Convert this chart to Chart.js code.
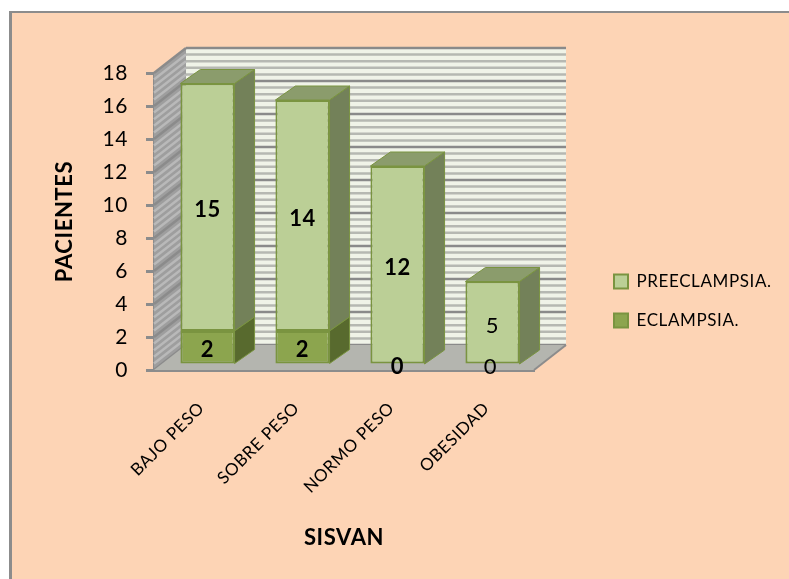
<!DOCTYPE html>
<html><head><meta charset="utf-8">
<style>
html,body{margin:0;padding:0;background:#fff;width:789px;height:579px;overflow:hidden}
#bg{position:absolute;left:9px;top:11px;width:777px;height:566px;background:#FDD4B5;border-left:3px solid #8c8c8c;border-top:2px solid #8c8c8c}
#c{position:absolute;left:0;top:0}
</style>
<script src="https://cdn.jsdelivr.net/npm/chart.js@4"></script>
</head><body>
<div id="bg"></div>
<canvas id="c" width="789" height="579"></canvas>
<script>
const categories = ['BAJO PESO','SOBRE PESO','NORMO PESO','OBESIDAD'];
const eclampsia = [2,2,0,0];
const preeclampsia = [15,14,12,5];
const yTicksMax = 18;
const yStep = 2;
const stripeStep = 0.4;

const FONT = 'Lato, sans-serif';
const wallDX = 32, wallDY = -25;      // depth of the chart box
const barShift = 6;                   // bars sit inside the depth
const barDX = 20, barDY = -14;        // depth of a bar
const C = {axis:'#8c8c8c',wall:'#F0F3E8',minor:'#B6B8B2',major:'#8A8A8A',floor:'#B4B5AF',
  sideWall:'#9E9E9E',sideMinor:'#B9B9B9',sideMajor:'#8B8B8B',
  preFill:'#BBCF96',preTop:'#8B9C6C',preSide:'#738159',
  ecFill:'#8CA54E',ecSide:'#586A2E',edge:'#7A9440'};

function poly(ctx,pts,fill,stroke,lw){
  ctx.beginPath();pts.forEach((p,i)=>i?ctx.lineTo(p[0],p[1]):ctx.moveTo(p[0],p[1]));ctx.closePath();
  if(fill){ctx.fillStyle=fill;ctx.fill();}
  if(stroke){ctx.strokeStyle=stroke;ctx.lineWidth=lw||1;ctx.stroke();}
}
const box3d = {
  id:'box3d',
  beforeLayout(chart){
    const lg = chart.legend;
    if(lg && !lg._wrapped){
      const fit = lg.fit;
      lg.fit = function(){fit.call(this); this.width = 255;};
      lg._wrapped = true;
    }
  },
  afterLayout(chart){
    const lg = chart.legend;
    const p = lg.options.labels.padding;
    lg.left = 614 - p; lg.right = 789;
    lg.top = 273 - p; lg.bottom = lg.top + 80 + p;
  },
  beforeDraw(chart){ chart.ctx.letterSpacing='0.6px'; },
  beforeDatasetsDraw(chart){
    const ctx = chart.ctx, y = chart.scales.y, x = chart.scales.x;
    const L = x.left, R = x.right, Y0 = y.getPixelForValue(0), Yt = y.getPixelForValue(yTicksMax);
    ctx.save();
    // back wall
    poly(ctx,[[L+wallDX,Yt+wallDY],[R+wallDX,Yt+wallDY],[R+wallDX,Y0+wallDY],[L+wallDX,Y0+wallDY]],C.wall);
    // side wall
    poly(ctx,[[L,Y0],[L+wallDX,Y0+wallDY],[L+wallDX,Yt+wallDY],[L,Yt]],C.sideWall);
    // stripes and gridlines, both walls
    const n = Math.round(yTicksMax/stripeStep);
    for(let i=0;i<=n;i++){
      const v = i*stripeStep, py = y.getPixelForValue(v);
      const major = i%5===0;
      ctx.lineWidth = 2.5;
      ctx.strokeStyle = major?C.major:C.minor;
      ctx.beginPath();ctx.moveTo(L+wallDX,py+wallDY);ctx.lineTo(R+wallDX,py+wallDY);ctx.stroke();
      ctx.strokeStyle = major?C.sideMajor:C.sideMinor;
      ctx.beginPath();ctx.moveTo(L,py);ctx.lineTo(L+wallDX,py+wallDY);ctx.stroke();
    }
    // floor
    poly(ctx,[[L,Y0],[R,Y0],[R+wallDX,Y0+wallDY],[L+wallDX,Y0+wallDY]],C.floor);
    ctx.strokeStyle=C.axis;ctx.lineWidth=2;
    ctx.beginPath();ctx.moveTo(R,Y0);ctx.lineTo(R+wallDX,Y0+wallDY);ctx.stroke();
    ctx.restore();
    // bar sides and tops, in the shifted bar plane
    ctx.save();
    ctx.translate(barShift,-barShift);
    const dsE = chart.getDatasetMeta(0).data, dsP = chart.getDatasetMeta(1).data;
    categories.forEach((_,i)=>{
      const e = dsE[i], p = dsP[i];
      const hw = p.width/2, xr = p.x+hw, xl = p.x-hw;
      const yb = e.base, ym = e.y, yt = p.y;
      // upper side
      poly(ctx,[[xr,ym],[xr+barDX,ym+barDY],[xr+barDX,yt+barDY],[xr,yt]],C.preSide,C.edge,1);
      // lower side
      if(ym!==yb) poly(ctx,[[xr,yb],[xr+barDX,yb+barDY],[xr+barDX,ym+barDY],[xr,ym]],C.ecSide,C.edge,1);
      // top
      poly(ctx,[[xl,yt],[xl+barDX,yt+barDY],[xr+barDX,yt+barDY],[xr,yt]],C.preTop,C.edge,1);
    });
    // the bars themselves are drawn by the library in this same shifted plane
  },
  afterDatasetsDraw(chart){
    const ctx = chart.ctx;
    ctx.restore();
    ctx.save();
    ctx.fillStyle='#000';ctx.textAlign='center';ctx.textBaseline='middle';
    chart.data.datasets.forEach((ds,di)=>{
      chart.getDatasetMeta(di).data.forEach((el,i)=>{
        const v = ds.data[i];
        const cx = el.x + barShift;
        const cy = v===0 ? el.base - barShift + 3 : (el.y+el.base)/2 - barShift + 3;
        ctx.font = (i===3?'400 ':'700 ')+'22px '+FONT;
        ctx.fillText(String(v), v===0&&i===3?cx-2:cx, cy);
      });
    });
    ctx.restore();
  }
};

new Chart(document.getElementById('c'),{
  type:'bar',
  data:{labels:categories,datasets:[
    {label:'ECLAMPSIA.',data:eclampsia,backgroundColor:C.ecFill,borderColor:C.edge,borderWidth:2,borderSkipped:false},
    {label:'PREECLAMPSIA.',data:preeclampsia,backgroundColor:C.preFill,borderColor:C.edge,borderWidth:2,borderSkipped:false}
  ]},
  options:{
    responsive:false,animation:false,devicePixelRatio:1,
    layout:{padding:{top:73,left:0,right:0,bottom:0}},
    datasets:{bar:{categoryPercentage:1,barPercentage:0.57}},
    plugins:{
      tooltip:{enabled:false},
      legend:{display:true,position:'right',reverse:true,align:'start',
        labels:{boxWidth:14,boxHeight:14,padding:22,color:'#000',font:{family:FONT,size:17}}}
    },
    scales:{
      x:{stacked:true,offset:true,
        afterFit(s){s.height=209;},
        grid:{display:false,drawTicks:false},
        border:{color:C.axis,width:3},
        ticks:{color:'#000',font:{family:FONT,size:17},minRotation:45,maxRotation:45,padding:28,autoSkip:false},
        title:{display:true,text:'SISVAN',color:'#000',font:{family:FONT,size:22,weight:'bold'},padding:{top:0,bottom:28}}
      },
      y:{stacked:true,min:0,max:yTicksMax,
        afterFit(s){s.width=154;},
        grid:{drawOnChartArea:false,drawTicks:true,tickLength:8,tickColor:C.axis,tickWidth:3},
        border:{color:C.axis,width:3},
        ticks:{stepSize:yStep,color:'#000',font:{family:FONT,size:21},padding:18},
        title:{display:true,text:'PACIENTES',color:'#000',font:{family:FONT,size:22,weight:'bold'},padding:{top:52,bottom:0}}
      }
    }
  },
  plugins:[box3d]
});
</script>
</body></html>
